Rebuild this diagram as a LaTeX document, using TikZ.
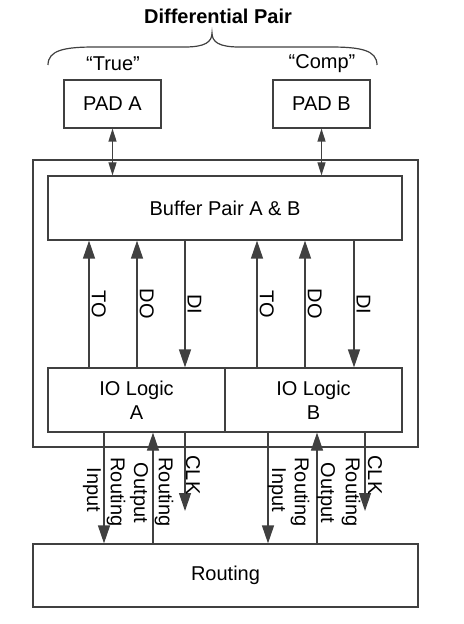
\documentclass[tikz,border=0pt]{standalone}
\usepackage{fontspec}
\setmainfont{Liberation Sans}
\usetikzlibrary{arrows.meta}
\definecolor{linegray}{HTML}{404040}
\tikzset{
  block/.style={
    rectangle,
    draw=linegray,
    align=center,
    inner sep=0pt
    },
  padbox/.style={block, minimum width=48.5pt, minimum height=24pt},
  logicbox/.style={block, minimum width=88.5pt, minimum height=32pt},
  widebox/.style={block, minimum width=192.5pt},
  sigarrow/.style={-{Triangle[length=9pt,width=6pt]}},
  padarrow/.style={{Triangle[length=6.5pt,width=4pt]}-{Triangle[length=6.5pt,width=4pt]}},
  sig/.style={rotate=-90, anchor=south, inner sep=1pt},
  rot/.style={rotate=-90, inner sep=0pt},
}

\begin{document}
\begin{tikzpicture}[x=0.5pt, y=-0.5pt, line width=0.6pt, color=linegray,
    every node/.style={text=black}]
    \useasboundingbox (0,0) rectangle (463,624);

    % brace over the two pads
    \draw (48,65) .. controls (48,50) and (65,47) .. (95,47) -- (185,47)
        .. controls (205,47) and (212,42) .. (212,33)
        .. controls (212,42) and (219,47) .. (239,47) -- (330,47)
        .. controls (360,47) and (377,50) .. (377,65);
    \node[font=\bfseries] (title) at (218,16) {Differential Pair};
    \node (true) at (113,64) {“True”};
    \node (comp) at (322,64) {“Comp”};

    % blocks
    \node[padbox] (padA) at (112.5,104) {PAD A};
    \node[padbox] (padB) at (321.5,104) {PAD B};
    \node[widebox, minimum height=143.5pt] (fpga) at (225.5,303.5) {};
    \node[block, minimum width=177pt, minimum height=32pt] (buffer) at (225,208) {Buffer Pair A \& B};
    \node[logicbox] (logA) at (136.5,400) {IO Logic\\A};
    \node[logicbox] (logB) at (313.5,400) {IO Logic\\B};
    \node[widebox, minimum height=31.5pt] (routing) at (225.5,575.5) {Routing};

    % signal columns
    \foreach \name/\x in {toA/89, doA/137, diA/185, toB/257, doB/305, diB/354,
                          inA/104, outA/153, clkA/185, inB/268, outB/317, clkB/365}
        \coordinate (\name) at (\x,0);
    \coordinate (clkA-end) at (185,511);
    \coordinate (clkB-end) at (365,511);

    % pads to buffer
    \draw[padarrow] (padA.south) -- (padA.south |- buffer.north);
    \draw[padarrow] (padB.south) -- (padB.south |- buffer.north);

    % IO logic to buffer
    \foreach \s/\lbl/\blk in {toA/TO/logA, doA/DO/logA, toB/TO/logB, doB/DO/logB}
        \draw[sigarrow] (\blk.north -| \s) -- (buffer.south -| \s)
            node[sig, midway] (l-\s) {\lbl};
    \foreach \s/\blk in {diA/logA, diB/logB}
        \draw[sigarrow] (buffer.south -| \s) -- (\blk.north -| \s)
            node[sig, midway] (l-\s) {DI};

    % IO logic to routing
    \foreach \s/\blk in {inA/logA, inB/logB}
        \draw[sigarrow] (\blk.south -| \s) -- (routing.north -| \s);
    \foreach \s/\blk in {outA/logA, outB/logB}
        \draw[sigarrow] (routing.north -| \s) -- (\blk.south -| \s);
    \draw[sigarrow] (logA.south -| clkA) -- (clkA-end);
    \draw[sigarrow] (logB.south -| clkB) -- (clkB-end);

    % routing labels
    \foreach \name/\x/\y/\txt in {nInA/92/490/Input, nRiA/116/492/Routing,
            nOutA/139/493/Output, nRoA/164/492/Routing, nClkA/193/475/CLK,
            nInB/277/490/Input, nRiB/300/492/Routing, nOutB/326/493/Output,
            nRoB/351/492/Routing, nClkB/375/475/CLK}
        \node[rot] (\name) at (\x,\y) {\txt};
\end{tikzpicture}
\end{document}
